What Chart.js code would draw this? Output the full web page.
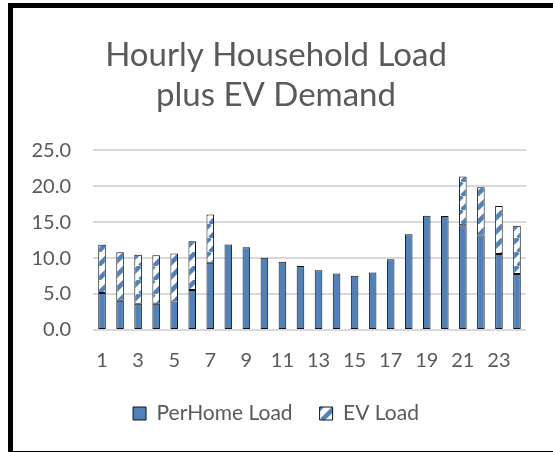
<!DOCTYPE html>
<html>
<head>
<meta charset="utf-8">
<script src="https://cdn.jsdelivr.net/npm/chart.js@4/dist/chart.umd.min.js"></script>
<style>
  html, body { margin: 0; padding: 0; background: #fff; overflow: hidden; }
  #frame {
    position: absolute; left: 8px; top: 3px;
    width: 600px; height: 443px;
    border: 5px solid #000; border-right: none;
  }
  #wrap { position: absolute; left: 0; top: 0; width: 553px; height: 452px; }
</style>
</head>
<body>
<div id="frame"></div>
<div id="wrap"><canvas id="myChart"></canvas></div>
<script>
const hours = ["1","2","3","4","5","6","7","8","9","10","11","12",
  "13","14","15","16","17","18","19","20","21","22","23","24"];
const perHomeLoad = [5.15, 4.05, 3.65, 3.65, 3.95, 5.55, 9.35, 11.9, 11.5, 10.05, 9.5, 8.9,
  8.3, 7.85, 7.55, 8.0, 9.85, 13.3, 15.9, 15.85, 14.55, 13.15, 10.55, 7.8];
const evLoad = [6.7, 6.75, 6.8, 6.75, 6.7, 6.8, 6.7, 0, 0, 0, 0, 0,
  0, 0, 0, 0, 0, 0, 0, 0, 6.8, 6.7, 6.7, 6.7];

const blue = "#4f81bd";
const grey = "#595959";
const fontFam = "Lato, 'Open Sans', sans-serif";

// upward diagonal hatch for the EV bars
function makeHatch() {
  const s = 14;
  const c = document.createElement("canvas");
  c.width = s; c.height = s;
  const g = c.getContext("2d");
  g.fillStyle = "#fff";
  g.fillRect(0, 0, s, s);
  g.strokeStyle = blue;
  g.lineWidth = 4.5;
  for (const k of [-s, 0, s]) {
    g.beginPath();
    g.moveTo(k, s);
    g.lineTo(k + s, 0);
    g.stroke();
  }
  return g.createPattern(c, "repeat");
}

const ctx = document.getElementById("myChart");

new Chart(ctx, {
  type: "bar",
  data: {
    labels: hours,
    datasets: [
      {
        label: "PerHome Load",
        data: perHomeLoad,
        backgroundColor: blue,
        borderColor: "#111",
        borderWidth: 1,
        borderSkipped: false,
      },
      {
        label: "EV Load",
        data: evLoad,
        backgroundColor: makeHatch(),
        borderColor: "#111",
        borderWidth: 1,
        borderSkipped: false,
      },
    ],
  },
  options: {
    responsive: true,
    maintainAspectRatio: false,
    animation: false,
    layout: { padding: { left: 26, right: 27, top: 0, bottom: 18 } },
    datasets: { bar: { barPercentage: 0.42, categoryPercentage: 1 } },
    plugins: {
      title: {
        display: true,
        text: ["Hourly Household Load", "plus EV Demand"],
        color: grey,
        font: { family: fontFam, size: 33, weight: "normal", lineHeight: 1.2 },
        padding: { top: 36, bottom: 35 },
      },
      legend: {
        position: "bottom",
        labels: {
          color: grey,
          font: { family: fontFam, size: 21 },
          boxWidth: 13,
          boxHeight: 13,
          padding: 27,
        },
      },
      tooltip: { enabled: false },
    },
    scales: {
      x: {
        stacked: true,
        grid: { display: false, drawTicks: false },
        border: { display: false },
        afterFit: (s) => { s.height = 46; },
        ticks: {
          color: grey,
          font: { family: fontFam, size: 20 },
          autoSkip: false,
          maxRotation: 0,
          padding: 19,
          callback: (v, i) => (i % 2 === 0 ? hours[i] : ""),
        },
      },
      y: {
        stacked: true,
        min: 0,
        max: 25,
        border: { display: false },
        grid: { color: "#d9d9d9", lineWidth: 2, drawTicks: false },
        afterFit: (s) => { s.width = 67; },
        ticks: {
          stepSize: 5,
          color: grey,
          font: { family: fontFam, size: 20 },
          padding: 22,
          callback: (v) => v.toFixed(1),
        },
      },
    },
  },
});
</script>
</body>
</html>
